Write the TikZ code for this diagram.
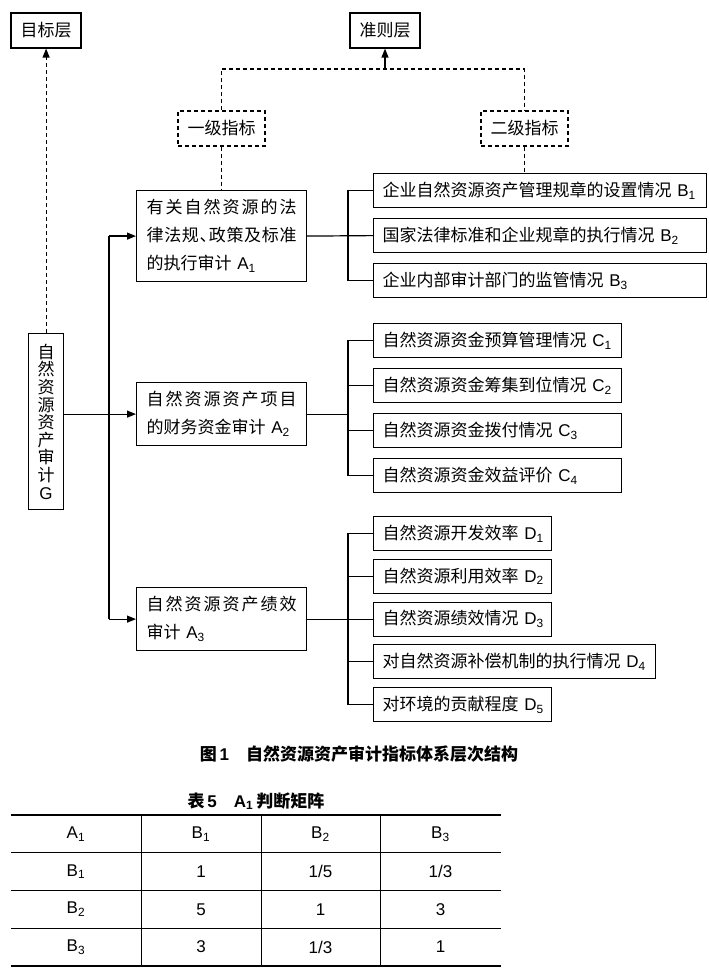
\documentclass[tikz,border=0pt]{standalone}
\usepackage{fontspec}
\setmainfont{Noto Sans CJK SC}
\newfontfamily\latin{Liberation Sans}
\usetikzlibrary{arrows.meta,calc}
\newcommand\Ls[2]{{\latin #1\textsubscript{#2}}}
\newcommand\fsmain{\fontsize{12.75pt}{21pt}\selectfont}
\begin{document}
\begin{tikzpicture}[x=0.75pt,y=-0.75pt,
  box/.style={draw,line width=0.9pt,inner sep=0pt},
  lbox/.style={box,anchor=north west,minimum height=25.5pt,align=left,inner xsep=6.75pt,text width=#1,font=\fsmain},
  abox/.style={box,anchor=north west,align=left,inner xsep=7.5pt,text width=112.5pt,font=\fsmain},
  cbox/.style={box,minimum width=52.5pt,minimum height=26.25pt,font=\fsmain},
  dbox/.style={box,dash pattern=on 3pt off 2.25pt,minimum width=65.25pt,minimum height=26.25pt,font=\fsmain},
  ln/.style={line width=0.9pt},
  dsh/.style={line width=0.9pt,dash pattern=on 3pt off 2.25pt},
  arr/.style={line width=0.9pt,-{Triangle[length=6.75pt,width=5.25pt]}},
  cell/.style={font=\latin\fontsize{12.75pt}{14pt}\selectfont,inner sep=0pt}
]
\useasboundingbox (0,0) rectangle (708,969);

% top level labels
\node[cbox] (mb) at (46,30.5) {目标层};
\node[cbox] (zz) at (385,30.5) {准则层};
\node[dbox] (yj) at (221.5,128.5) {一级指标};
\node[dbox] (ej) at (524.5,128.5) {二级指标};

% goal
\node[box,anchor=north west,minimum width=26.25pt,minimum height=132pt,align=center,
      font=\fontsize{12.75pt}{13.2pt}\selectfont] (G) at (28,333)
  {自\\然\\资\\源\\资\\产\\审\\计\\{\latin G}};

% first level
\node[abox,minimum height=68.25pt] (A1) at (136,190)
  {\makebox[112.5pt]{有\hfill 关\hfill 自\hfill 然\hfill 资\hfill 源\hfill 的\hfill 法}\\
   \makebox[112.5pt]{律\hfill 法\hfill 规\hfill\makebox[0.5em][l]{、}\hfill 政\hfill 策\hfill 及\hfill 标\hfill 准}\\
   的执行审计~\Ls{A}{1}};
\node[abox,minimum height=47.25pt] (A2) at (136,382)
  {\makebox[112.5pt]{自\hfill 然\hfill 资\hfill 源\hfill 资\hfill 产\hfill 项\hfill 目}\\
   的财务资金审计~\Ls{A}{2}};
\node[abox,minimum height=47.25pt] (A3) at (136,587)
  {\makebox[112.5pt]{自\hfill 然\hfill 资\hfill 源\hfill 资\hfill 产\hfill 绩\hfill 效}\\
   审计~\Ls{A}{3}};

% second level
\node[lbox=236.25pt] (B1) at (373,173) {企业自然资源资产管理规章的设置情况~\Ls{B}{1}};
\node[lbox=236.25pt] (B2) at (373,218) {国家法律标准和企业规章的执行情况~\Ls{B}{2}};
\node[lbox=236.25pt] (B3) at (373,263) {企业内部审计部门的监管情况~\Ls{B}{3}};

\node[lbox=172.5pt] (C1) at (373,323) {自然资源资金预算管理情况~\Ls{C}{1}};
\node[lbox=172.5pt] (C2) at (373,368) {自然资源资金筹集到位情况~\Ls{C}{2}};
\node[lbox=172.5pt] (C3) at (373,413) {自然资源资金拨付情况~\Ls{C}{3}};
\node[lbox=172.5pt] (C4) at (373,458) {自然资源资金效益评价~\Ls{C}{4}};

\node[lbox=120pt] (D1) at (373,516) {自然资源开发效率~\Ls{D}{1}};
\node[lbox=120pt] (D2) at (373,558.75) {自然资源利用效率~\Ls{D}{2}};
\node[lbox=120pt] (D3) at (373,601.5) {自然资源绩效情况~\Ls{D}{3}};
\node[lbox=198pt] (D4) at (373,644.25) {对自然资源补偿机制的执行情况~\Ls{D}{4}};
\node[lbox=120pt] (D5) at (373,687) {对环境的贡献程度~\Ls{D}{5}};

% helper coordinates
\coordinate (hy) at (0,69);
\coordinate (tr) at (109,0);
\coordinate (bx) at (348,0);

% dashed upper structure
\draw[dsh] (yj.north) -- (yj.north |- hy) -- (ej.north |- hy) -- (ej.north);
\draw[arr] (zz.south |- hy) -- (zz.south);
\draw[dsh] (yj.south) -- (yj.south |- A1.north);
\draw[dsh] (ej.south) -- (ej.south |- B1.north);
\draw[dsh,-{Triangle[length=6.75pt,width=5.25pt]}] (G.north) -- (G.north |- mb.south);

% trunk
\draw[ln] (tr |- A1.west) -- (tr |- A3.west);
\draw[arr] (tr |- A1.west) -- (A1.west);
\draw[arr] (tr |- A3.west) -- (A3.west);
\draw[arr] (G.east |- A2.west) -- (A2.west);

% brackets B
\draw[ln] (A1.east) -- (B2.west);
\draw[ln] (B1.west) -- (bx |- B1.west) -- (bx |- B3.west) -- (B3.west);
% brackets C
\draw[ln] (A2.east) -- (bx |- A2.east);
\draw[ln] (C1.west) -- (bx |- C1.west) -- (bx |- C4.west) -- (C4.west);
\draw[ln] (C2.west) -- (bx |- C2.west);
\draw[ln] (C3.west) -- (bx |- C3.west);
% brackets D
\draw[ln] (A3.east) -- (D3.west);
\draw[ln] (D1.west) -- (bx |- D1.west) -- (bx |- D5.west) -- (D5.west);
\draw[ln] (D2.west) -- (bx |- D2.west);
\draw[ln] (D4.west) -- (bx |- D4.west);

% captions
\node[font=\bfseries\fontsize{12.75pt}{15pt}\selectfont] (cap) at (359,754)
  {图\,{\latin\bfseries 1}\hspace{1em}自然资源资产审计指标体系层次结构};
\node[font=\bfseries\fontsize{12.75pt}{15pt}\selectfont] (tcap) at (256,801)
  {表\,{\latin\bfseries 5}\hspace{1em}{\latin\bfseries A\textsubscript{1}}\,判断矩阵};

% table
\draw[line width=1.5pt] (11,815) -- (501,815);
\draw[line width=1.5pt] (11,966) -- (501,966);
\foreach \yy in {852.75,890.5,928.25} \draw[line width=0.75pt] (11,\yy) -- (501,\yy);
\foreach \xx in {141,261,380} \draw[line width=0.75pt] (\xx,815) -- (\xx,966);

\node[cell] (t11) at (76,834) {A\textsubscript{1}};
\node[cell] (t12) at (201,834) {B\textsubscript{1}};
\node[cell] (t13) at (320.5,834) {B\textsubscript{2}};
\node[cell] (t14) at (440.5,834) {B\textsubscript{3}};
\node[cell] (t21) at (76,871.5) {B\textsubscript{1}};
\node[cell] (t22) at (201,871.5) {1};
\node[cell] (t23) at (320.5,871.5) {1/5};
\node[cell] (t24) at (440.5,871.5) {1/3};
\node[cell] (t31) at (76,909.5) {B\textsubscript{2}};
\node[cell] (t32) at (201,909.5) {5};
\node[cell] (t33) at (320.5,909.5) {1};
\node[cell] (t34) at (440.5,909.5) {3};
\node[cell] (t41) at (76,947) {B\textsubscript{3}};
\node[cell] (t42) at (201,947) {3};
\node[cell] (t43) at (320.5,947) {1/3};
\node[cell] (t44) at (440.5,947) {1};
\end{tikzpicture}
\end{document}
